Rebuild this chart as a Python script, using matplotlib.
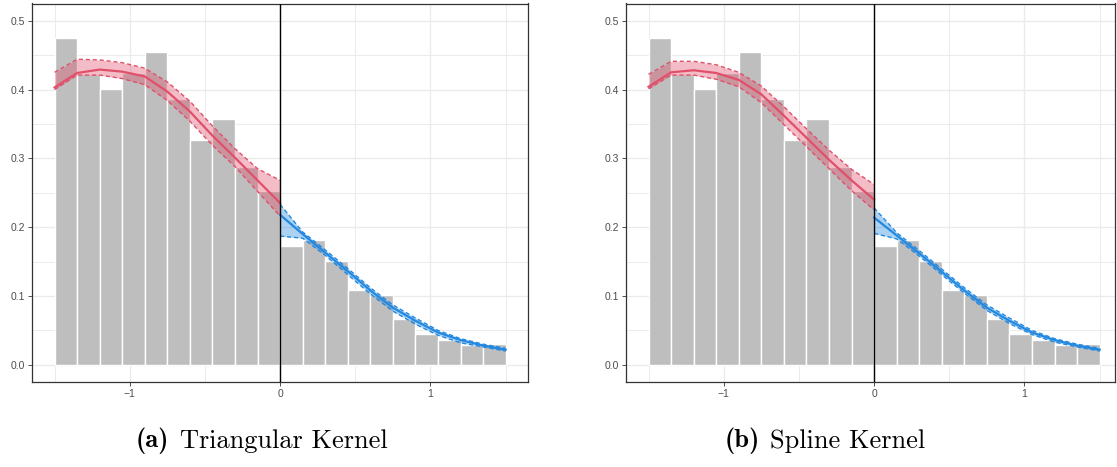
import numpy as np
import matplotlib
matplotlib.use("Agg")
import matplotlib.pyplot as plt
from matplotlib.ticker import FixedLocator

# ---------------- data ----------------
bin_edges = [-1.5, -1.35, -1.2, -1.05, -0.9, -0.75, -0.6, -0.45, -0.3, -0.15,
             0.0, 0.15, 0.3, 0.45, 0.6, 0.75, 0.9, 1.05, 1.2, 1.35, 1.5]
bar_heights = [0.475, 0.422, 0.401, 0.424, 0.454, 0.386, 0.327, 0.357, 0.288, 0.253,
               0.173, 0.182, 0.151, 0.108, 0.102, 0.066, 0.045, 0.036, 0.029, 0.030]

x_left = [-1.5, -1.35, -1.2, -1.05, -0.9, -0.75, -0.6, -0.45, -0.3, -0.15, 0.0]
x_right = [0.0, 0.15, 0.3, 0.45, 0.6, 0.75, 0.9, 1.05, 1.2, 1.35, 1.5]

# (a) Triangular kernel
tri_left_est = [0.403, 0.424, 0.429, 0.426, 0.419, 0.397, 0.368, 0.333, 0.301, 0.268, 0.235]
tri_left_hi = [0.425, 0.444, 0.443, 0.439, 0.431, 0.411, 0.383, 0.347, 0.314, 0.285, 0.268]
tri_left_lo = [0.400, 0.421, 0.421, 0.416, 0.407, 0.384, 0.354, 0.319, 0.288, 0.252, 0.216]
tri_right_est = [0.218, 0.190, 0.163, 0.136, 0.108, 0.083, 0.064, 0.047, 0.036, 0.028, 0.022]
tri_right_hi = [0.233, 0.193, 0.167, 0.140, 0.112, 0.087, 0.068, 0.050, 0.038, 0.030, 0.024]
tri_right_lo = [0.187, 0.184, 0.159, 0.131, 0.103, 0.078, 0.059, 0.043, 0.032, 0.026, 0.020]

# (b) Spline kernel
spl_left_est = [0.404, 0.425, 0.428, 0.424, 0.414, 0.393, 0.362, 0.330, 0.298, 0.268, 0.240]
spl_left_hi = [0.422, 0.441, 0.441, 0.436, 0.425, 0.405, 0.375, 0.343, 0.312, 0.284, 0.262]
spl_left_lo = [0.401, 0.421, 0.421, 0.415, 0.404, 0.381, 0.349, 0.317, 0.285, 0.253, 0.225]
spl_right_est = [0.214, 0.188, 0.162, 0.135, 0.108, 0.083, 0.064, 0.047, 0.036, 0.028, 0.022]
spl_right_hi = [0.228, 0.192, 0.166, 0.139, 0.112, 0.087, 0.068, 0.050, 0.038, 0.030, 0.024]
spl_right_lo = [0.191, 0.183, 0.158, 0.131, 0.104, 0.079, 0.060, 0.044, 0.033, 0.026, 0.020]

x_ticks = [-1, 0, 1]
x_tick_labels = ["\u22121", "0", "1"]
y_ticks = [0.0, 0.1, 0.2, 0.3, 0.4, 0.5]
y_tick_labels = ["0.0", "0.1", "0.2", "0.3", "0.4", "0.5"]
captions = [("(a)", "Triangular Kernel"), ("(b)", "Spline Kernel")]

# ---------------- style ----------------
RED = "#E0506B"
BLUE = "#2389E0"
BAR = "#BEBEBE"
GRID = "#EBEBEB"

fig = plt.figure(figsize=(11.17, 4.67), dpi=100)
W, H = 1117.0, 467.0

panels = [
    dict(left=32, right=528, est=(tri_left_est, tri_left_hi, tri_left_lo,
                                  tri_right_est, tri_right_hi, tri_right_lo)),
    dict(left=626, right=1115, est=(spl_left_est, spl_left_hi, spl_left_lo,
                                    spl_right_est, spl_right_hi, spl_right_lo)),
]
top_px, bot_px = 3.5, 382.0

for i, p in enumerate(panels):
    ax = fig.add_axes([p["left"] / W, 1 - bot_px / H, (p["right"] - p["left"]) / W,
                       (bot_px - top_px) / H])
    zero_px = p["left"] + 248.7
    xmin = -1.65
    xmax = (p["right"] - zero_px) / 150.0
    ax.set_xlim(xmin, xmax)
    ax.set_ylim(-0.025, 0.525)

    # grid
    ax.set_axisbelow(True)
    ax.xaxis.set_major_locator(FixedLocator(x_ticks))
    ax.xaxis.set_minor_locator(FixedLocator([-1.5, -0.5, 0.5, 1.5]))
    ax.yaxis.set_major_locator(FixedLocator(y_ticks))
    ax.yaxis.set_minor_locator(FixedLocator([0.05, 0.15, 0.25, 0.35, 0.45]))
    ax.grid(which="major", color=GRID, linewidth=1.0)
    ax.grid(which="minor", color=GRID, linewidth=0.7)
    ax.tick_params(which="minor", length=0)
    ax.tick_params(which="major", length=3, width=0.6, color="#333333",
                   labelsize=7.5, labelcolor="#4D4D4D", pad=2)
    ax.set_xticklabels(x_tick_labels, fontfamily="Liberation Sans")
    ax.set_yticklabels(y_tick_labels, fontfamily="Liberation Sans")
    for s in ax.spines.values():
        s.set_color("#333333")
        s.set_linewidth(0.9)

    # histogram
    widths = np.diff(bin_edges)
    ax.bar(bin_edges[:-1], bar_heights, width=widths, align="edge",
           color=BAR, edgecolor="white", linewidth=1.0, zorder=2)

    le, lh, ll, re, rh, rl = p["est"]
    ax.fill_between(x_left, ll, lh, color=RED, alpha=0.38, linewidth=0, zorder=3)
    ax.plot(x_left, lh, color=RED, ls=(0, (3, 2)), lw=1.0, zorder=4)
    ax.plot(x_left, ll, color=RED, ls=(0, (3, 2)), lw=1.0, zorder=4)
    ax.plot(x_left, le, color=RED, lw=1.6, zorder=5)

    ax.fill_between(x_right, rl, rh, color=BLUE, alpha=0.38, linewidth=0, zorder=3)
    ax.plot(x_right, rh, color=BLUE, ls=(0, (3, 2)), lw=1.0, zorder=4)
    ax.plot(x_right, rl, color=BLUE, ls=(0, (3, 2)), lw=1.0, zorder=4)
    ax.plot(x_right, re, color=BLUE, lw=1.6, zorder=5)

    ax.axvline(0, color="black", lw=1.0, zorder=6)

# captions: bold label in cmb10, text in cmr10, centred as a group
renderer = fig.canvas.get_renderer()
cap_x = [262, 825]
cap_y = 1 - 441 / H
gap_px = 11
for (lab, txt), cx in zip(captions, cap_x):
    t1 = fig.text(0, cap_y, lab, fontfamily="cmb10", fontsize=19,
                  ha="left", va="center")
    t2 = fig.text(0, cap_y, txt, fontfamily="cmr10", fontsize=19,
                  ha="left", va="center")
    w1 = t1.get_window_extent(renderer).width
    w2 = t2.get_window_extent(renderer).width
    total = w1 + gap_px + w2
    x0 = cx - total / 2
    t1.set_x(x0 / W)
    t2.set_x((x0 + w1 + gap_px) / W)

fig.savefig("out.png", dpi=100)
